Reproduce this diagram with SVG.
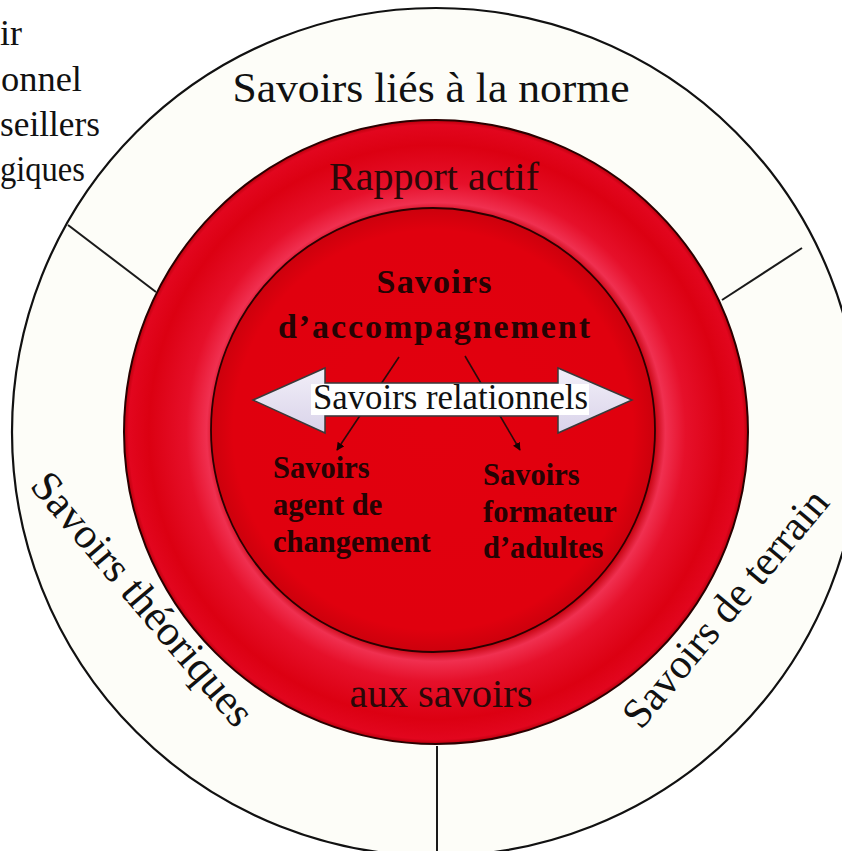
<svg xmlns="http://www.w3.org/2000/svg" width="842" height="851" viewBox="0 0 842 851">
<style>
.serif{font-family:"Liberation Serif","Times New Roman",serif;fill:#111}
.bold{font-family:"Liberation Serif","Times New Roman",serif;font-weight:bold;fill:#250303}
.dark{fill:#2a0808}
.div{stroke:#1a1a1a;stroke-width:2;fill:none}
.thin{stroke:#2a0a0a;stroke-width:1.6;fill:none}
</style>
<defs>
<radialGradient id="ringGrad" gradientUnits="userSpaceOnUse" cx="436" cy="432" r="312">
<stop offset="0.70" stop-color="#c4000c"/>
<stop offset="0.735" stop-color="#f03050"/>
<stop offset="0.80" stop-color="#e6102a"/>
<stop offset="0.92" stop-color="#dc0012"/>
<stop offset="0.985" stop-color="#e2061e"/>
<stop offset="1" stop-color="#b8000c"/>
</radialGradient>
<radialGradient id="innerGrad" gradientUnits="userSpaceOnUse" cx="433" cy="430" r="222">
<stop offset="0" stop-color="#e2000e"/>
<stop offset="0.9" stop-color="#e0000e"/>
<stop offset="1" stop-color="#cc000c"/>
</radialGradient>
<linearGradient id="arrowGrad" x1="0" y1="0" x2="0" y2="1">
<stop offset="0" stop-color="#f2eff8"/>
<stop offset="1" stop-color="#d9d3ea"/>
</linearGradient>
<marker id="tip" viewBox="0 0 10 10" refX="9" refY="5" markerWidth="5" markerHeight="5" orient="auto" markerUnits="strokeWidth">
<path d="M0,0 L10,5 L0,10 z" fill="#1a0000"/>
</marker>
</defs>
<rect width="842" height="851" fill="#ffffff"/>

<g id="side-text">
<text class="serif" font-size="36" text-anchor="end" x="22" y="45">ir</text>
<text class="serif" font-size="36" x="1" y="91" textLength="81" lengthAdjust="spacingAndGlyphs">onnel</text>
<text class="serif" font-size="36" x="0" y="136" textLength="100" lengthAdjust="spacingAndGlyphs">seillers</text>
<text class="serif" font-size="36" x="0" y="181" textLength="85" lengthAdjust="spacingAndGlyphs">giques</text>
</g>

<g id="outer-ring">
<circle cx="436" cy="432" r="424" fill="#fdfdf8" stroke="#111" stroke-width="2.2"/>
</g>

<g id="connectors">
<line class="div" x1="68" y1="225" x2="156" y2="292"/>
<line class="div" x1="722" y1="300" x2="802" y2="248"/>
<line class="div" x1="437" y1="746" x2="437" y2="851"/>
</g>

<g id="red-ring">
<circle cx="436" cy="432" r="312" fill="url(#ringGrad)" stroke="#2a0000" stroke-width="2"/>
<text class="serif dark" font-size="40" text-anchor="middle" x="434" y="190" textLength="210" lengthAdjust="spacingAndGlyphs">Rapport actif</text>
<text class="serif dark" font-size="40" text-anchor="middle" x="441" y="707" textLength="183" lengthAdjust="spacingAndGlyphs">aux savoirs</text>
</g>

<g id="inner-circle">
<circle cx="433" cy="430" r="222" fill="url(#innerGrad)" stroke="#2a0000" stroke-width="1.8"/>
<text class="bold" font-size="34" text-anchor="middle" x="434" y="293" textLength="115" lengthAdjust="spacing">Savoirs</text>
<text class="bold" font-size="34" text-anchor="middle" x="434" y="338" textLength="312" lengthAdjust="spacing">d’accompagnement</text>
</g>

<g id="sub-connectors">
<line class="thin" x1="399" y1="357" x2="337" y2="450" marker-end="url(#tip)"/>
<line class="thin" x1="465" y1="356" x2="520" y2="450" marker-end="url(#tip)"/>
</g>

<g id="relational-arrow">
<polygon points="253,400 325,368 325,383 558,383 558,368 632,400 558,433 558,416 325,416 325,433" fill="url(#arrowGrad)" stroke="#3a3a3a" stroke-width="1.5" stroke-linejoin="miter"/>
<rect x="311" y="384" width="278" height="31" fill="#ffffff"/>
<text class="serif" font-size="35" x="313" y="409" textLength="275" lengthAdjust="spacingAndGlyphs">Savoirs relationnels</text>
</g>

<g id="agent">
<text class="bold" font-size="30.5" x="273" y="478">Savoirs</text>
<text class="bold" font-size="30.5" x="273" y="515">agent de</text>
<text class="bold" font-size="30.5" x="273" y="552">changement</text>
</g>

<g id="formateur">
<text class="bold" font-size="30.5" x="483" y="485">Savoirs</text>
<text class="bold" font-size="30.5" x="483" y="522">formateur</text>
<text class="bold" font-size="30.5" x="483" y="558">d’adultes</text>
</g>

<g id="ring-labels">
<text class="serif" font-size="43" text-anchor="middle" x="431" y="102" textLength="397" lengthAdjust="spacingAndGlyphs">Savoirs liés à la norme</text>
<text class="serif" font-size="43" text-anchor="middle" transform="translate(132,608) rotate(49.6)">Savoirs théoriques</text>
<text class="serif" font-size="42" text-anchor="middle" transform="translate(736,617) rotate(-50.1)">Savoirs de terrain</text>
</g>
</svg>
